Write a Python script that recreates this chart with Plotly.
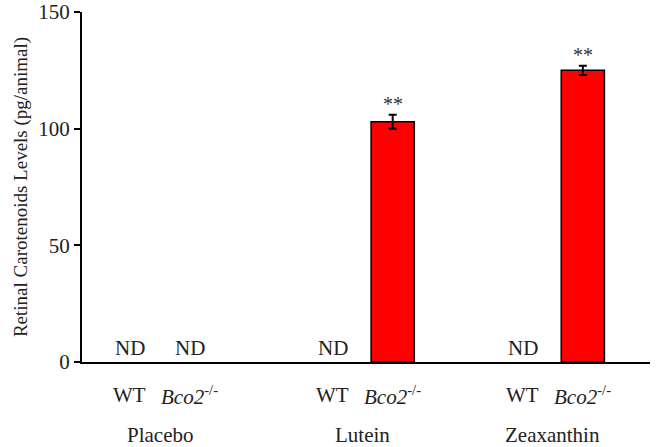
import plotly.graph_objects as go

# data (pg/animal); None = not detected
treatments = ["Placebo", "Lutein", "Zeaxanthin"]
genotypes = ["WT", "<i>Bco2</i><sup>-/-</sup>"]
wt_values = [None, None, None]
bco2_values = [None, 103, 125]
bco2_errors = [0, 3, 2]
sig_marks = ["", "**", "**"]

FONT = "Liberation Serif, Times New Roman, serif"

# layout: where each treatment group sits on the x axis
group_centers = [1.3, 4.68, 7.85]
offset = 0.5

wt_x = [c - offset for c in group_centers]
bco2_x = [c + offset for c in group_centers]

fig = go.Figure()
fig.add_trace(go.Bar(
    x=bco2_x, y=bco2_values,
    width=0.72,
    marker=dict(color="#ff0000", line=dict(color="black", width=1.5)),
    error_y=dict(type="data", array=bco2_errors, color="black", thickness=2, width=4),
    showlegend=False,
))

annotations = []
# ND labels
for xs, vals in [(wt_x, wt_values), (bco2_x, bco2_values)]:
    for x, v in zip(xs, vals):
        if v is None:
            annotations.append(dict(x=x, y=0, xref="x", yref="y", text="ND",
                                    showarrow=False, yanchor="bottom", yshift=0,
                                    font=dict(size=21, color="#222")))
# significance stars
for x, v, e, s in zip(bco2_x, bco2_values, bco2_errors, sig_marks):
    if s and v is not None:
        annotations.append(dict(x=x, y=v + e, xref="x", yref="y", text=s,
                                showarrow=False, yanchor="bottom", yshift=-2,
                                font=dict(size=20, color="#333")))
# genotype labels
for xs, g in [(wt_x, genotypes[0]), (bco2_x, genotypes[1])]:
    for x in xs:
        annotations.append(dict(x=x, y=0, xref="x", yref="y", text=g,
                                showarrow=False, yanchor="middle", yshift=-33,
                                font=dict(size=21, color="#222")))
# treatment labels
for c, t in zip(group_centers, treatments):
    annotations.append(dict(x=c, y=0, xref="x", yref="y", text=t,
                            showarrow=False, yanchor="middle", yshift=-73,
                            font=dict(size=21, color="#222")))

fig.update_layout(
    width=656, height=447,
    margin=dict(l=82, r=6, t=12, b=85),
    paper_bgcolor="white", plot_bgcolor="white",
    font=dict(family=FONT, size=21, color="#222"),
    annotations=annotations,
    xaxis=dict(range=[0, 9.47], showticklabels=False, ticks="",
               showgrid=False, zeroline=False, automargin=False,
               showline=True, linecolor="black", linewidth=2),
    yaxis=dict(range=[0, 150], tickvals=[0, 50, 100, 150],
               ticks="outside", ticklen=6, tickwidth=1.5, tickcolor="black",
               showgrid=False, zeroline=False, automargin=False,
               showline=True, linecolor="black", linewidth=2,
               title=dict(text="Retinal Carotenoids Levels (pg/animal)",
                          font=dict(size=19), standoff=6)),
)

# the page's default body margin would push the figure 8px off
fig.write_html("out.html", config={"displayModeBar": False},
               post_script="document.body.style.margin='0';")
